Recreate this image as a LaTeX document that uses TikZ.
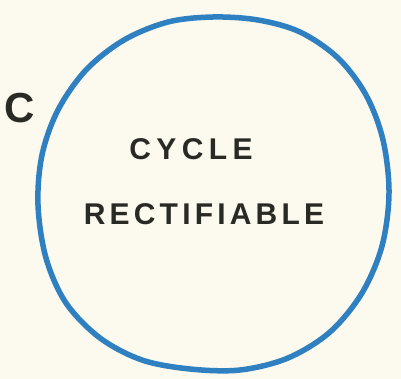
\documentclass[tikz,border=0pt]{standalone}
\usepackage{fontspec}
\setmainfont{Liberation Sans}
\newfontfamily\handfont[LetterSpace=18]{Liberation Sans}
\newfontfamily\handfontb[LetterSpace=14]{Liberation Sans}
\definecolor{paper}{HTML}{FCF9EE}
\definecolor{ink}{HTML}{2A2A24}
\definecolor{pen}{HTML}{2F80C1}
\tikzset{
  lbl/.style={text=ink, inner sep=0pt, font=\fontsize{30}{30}\selectfont},
  curve/.style={draw=pen, line width=5.5pt, line join=round}
}
\begin{document}
\begin{tikzpicture}[x=1pt,y=-1pt]
\fill[paper] (0,0) rectangle (401,379);
\useasboundingbox (0,0) rectangle (401,379);
\draw[curve] plot[smooth cycle, tension=0.55] coordinates {
 (213,17) (258,20) (300,32) (338,58) (366,95) (383,140) (389,193)
 (382,246) (362,293) (330,332) (288,358) (240,370) (190,369)
 (142,360) (100,338) (66,303) (46,258) (38,205) (42,155)
 (58,110) (86,70) (124,40) (168,22)};
\node[lbl] (cycle) at (191,149) {\handfont\bfseries CYCLE};
\node[lbl] (rect) at (204,214) {\handfontb\bfseries RECTIFIABLE};
\node[lbl, font=\fontsize{42}{42}\selectfont\bfseries] (c) at (20,108) {C};
\end{tikzpicture}
\end{document}
